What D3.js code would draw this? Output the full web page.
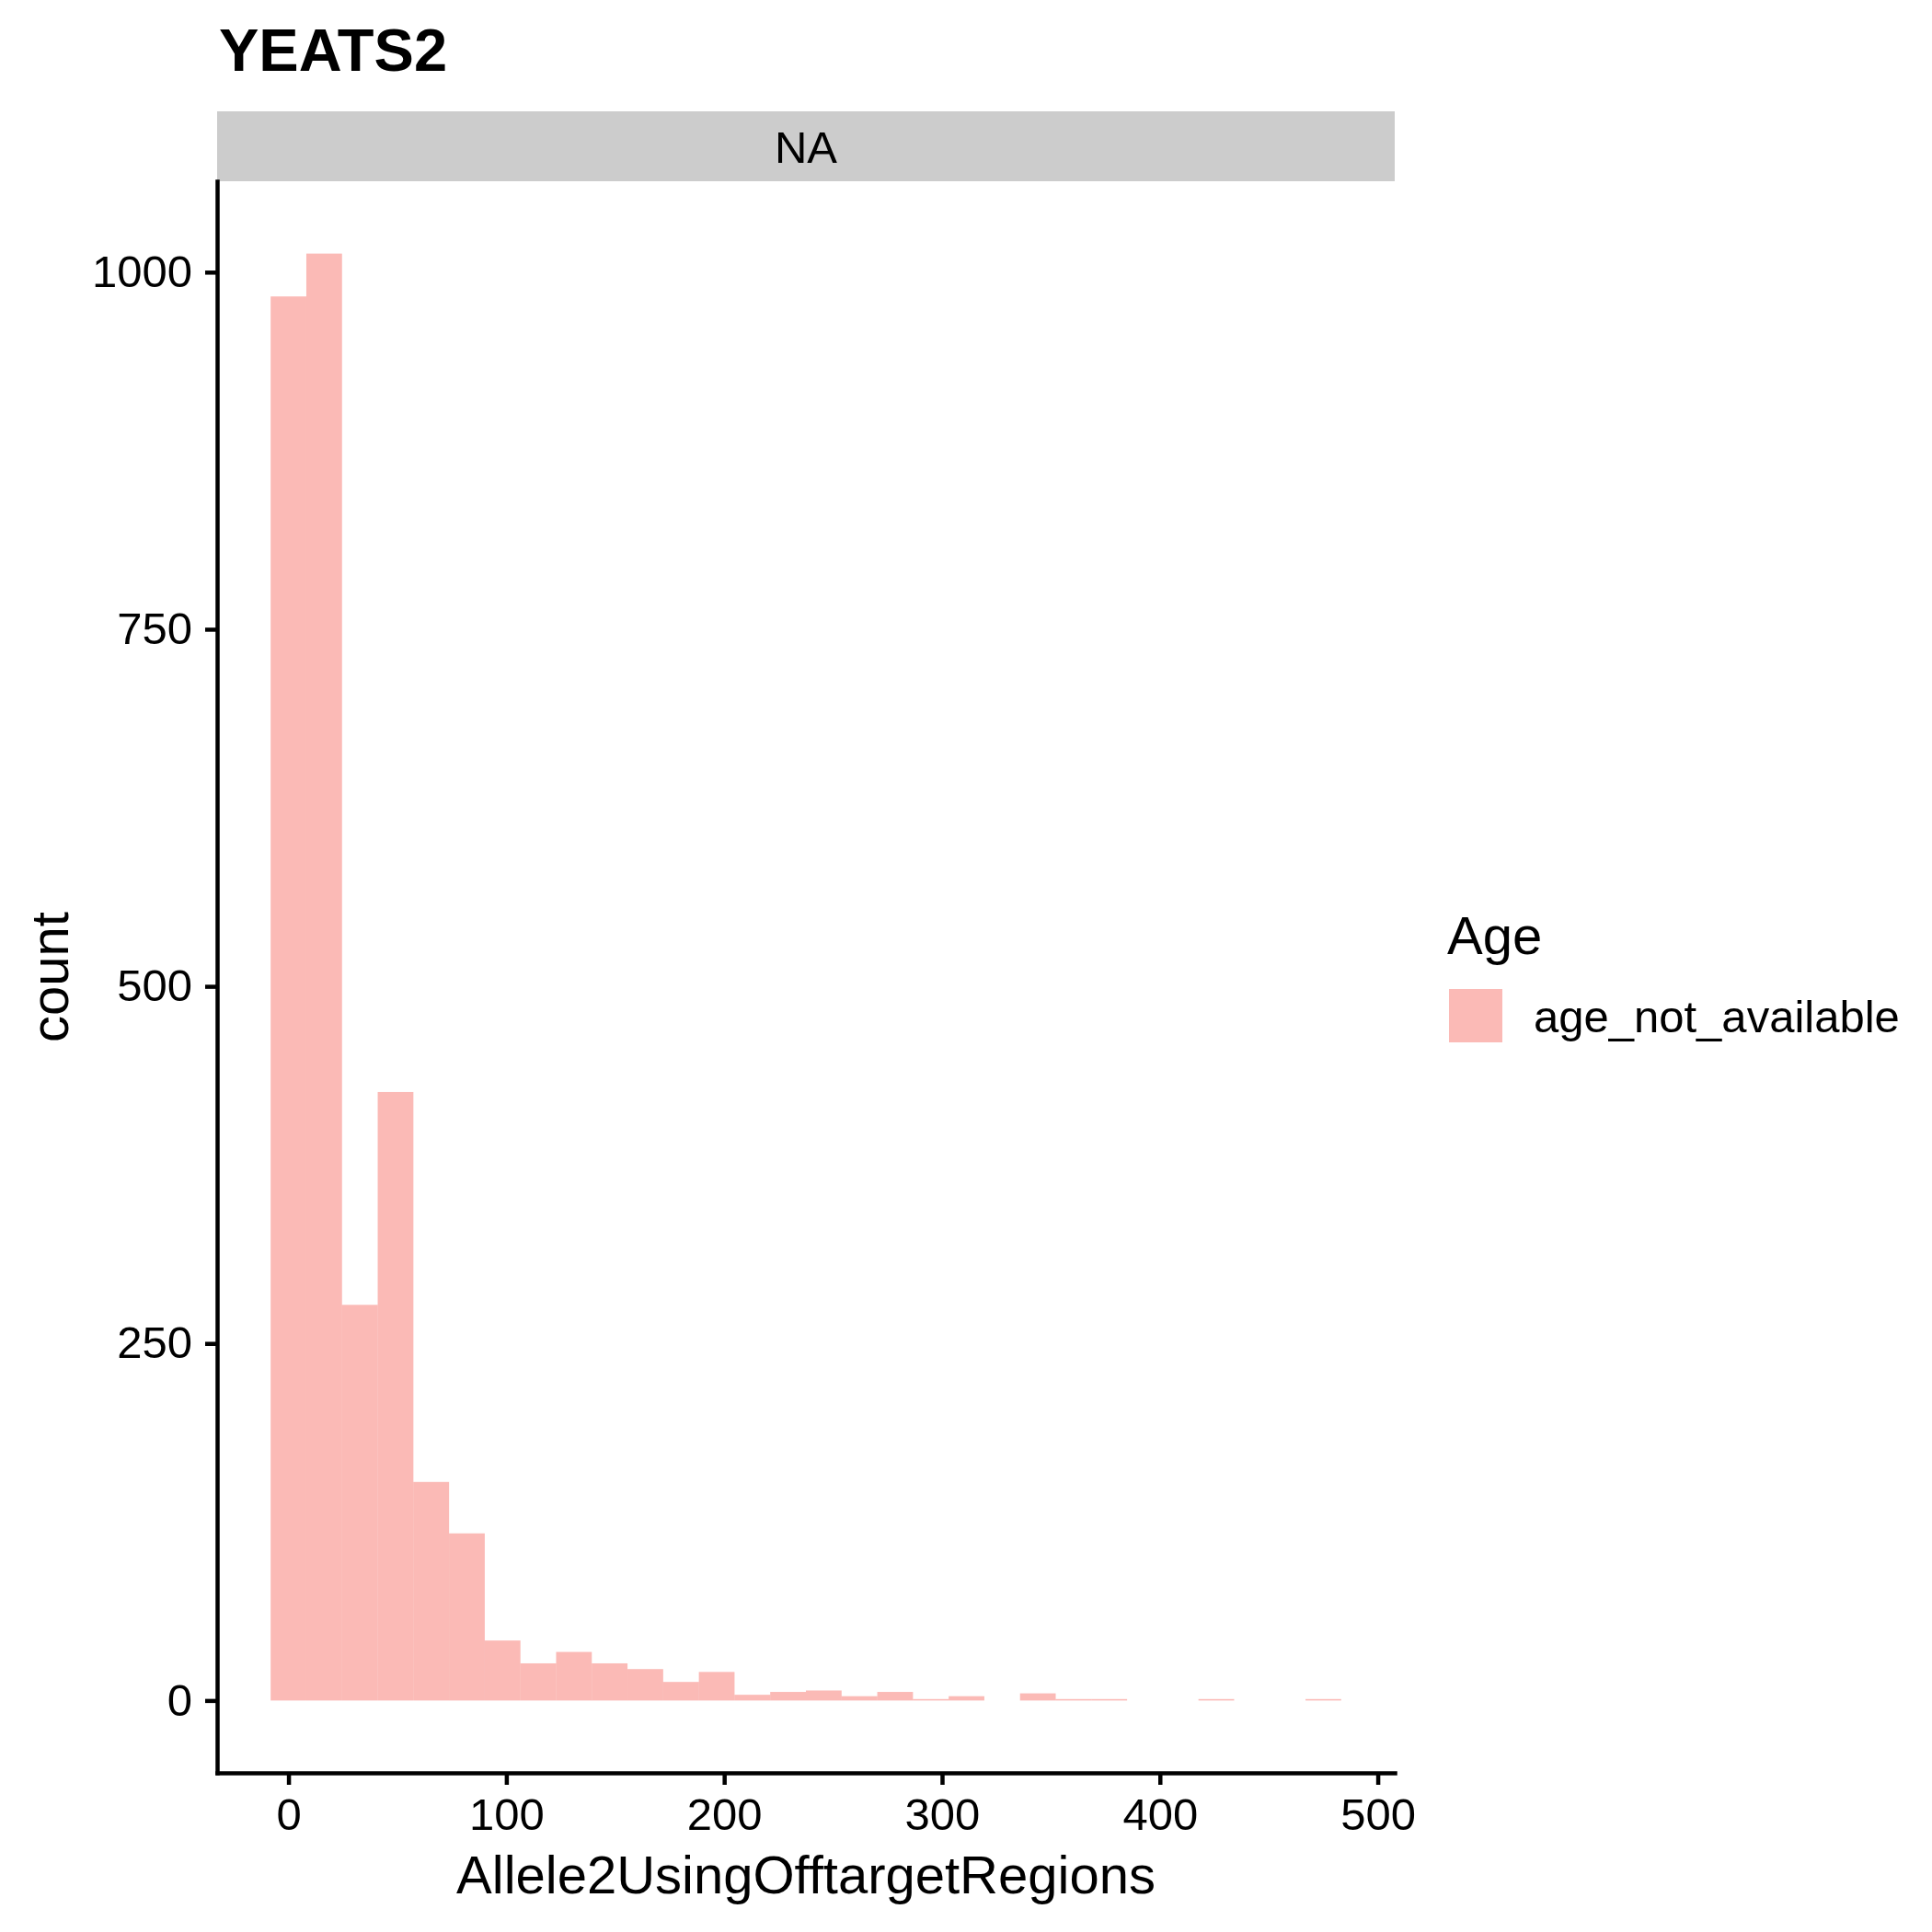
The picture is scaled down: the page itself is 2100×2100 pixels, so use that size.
<!DOCTYPE html>
<html>
<head>
<meta charset="utf-8">
<script src="https://cdn.jsdelivr.net/npm/d3@7"></script>
<style>
  body { margin: 0; background: #fff; }
  text { font-family: "Liberation Sans", Arial, Helvetica, sans-serif; fill: #000; }
</style>
</head>
<body>
<div id="chart"></div>
<script>
// Histogram of Allele2UsingOfftargetRegions, 30 bins, one facet ("NA").
var binStart = -8.19;      // left edge of the first bin
var binWidth = 16.38;
var counts = [983, 1013, 277, 426, 153, 117, 42, 26, 34, 26,
              22, 13, 20, 4, 6, 7, 3, 6, 1, 3,
              0, 5, 1, 1, 0, 0, 1, 0, 0, 1];
var xTicks = [0, 100, 200, 300, 400, 500];
var yTicks = [0, 250, 500, 750, 1000];
var groups = ["age_not_available"];
var facetLabel = "NA";
var title = "YEATS2";

var W = 2100, H = 2100;
var panel = {left: 236, right: 1516, top: 197, bottom: 1927};
var fill = "#F8766D";

var bins = counts.map(function(c, i) {
    return {x0: binStart + i * binWidth, x1: binStart + (i + 1) * binWidth, n: c};
});

var svg = d3.select("#chart").append("svg")
    .attr("width", W)
    .attr("height", H);

svg.append("rect").attr("width", W).attr("height", H).attr("fill", "#fff");

// ggplot style 5% expansion on both scales
var xLo = bins[0].x0, xHi = bins[bins.length - 1].x1;
var xPad = (xHi - xLo) * 0.05;
var x = d3.scaleLinear()
    .domain([xLo - xPad, xHi + xPad])
    .range([panel.left, panel.right]);

var yMax = d3.max(counts);
var y = d3.scaleLinear()
    .domain([-yMax * 0.05, yMax * 1.05])
    .range([panel.bottom, panel.top]);

// title
svg.append("text")
    .attr("x", 238)
    .attr("y", 77)
    .style("font-size", "65px")
    .style("font-weight", "bold")
    .text(title);

// facet strip
svg.append("rect")
    .attr("x", panel.left)
    .attr("y", 121)
    .attr("width", panel.right - panel.left)
    .attr("height", panel.top - 121)
    .attr("fill", "#CCCCCC");

svg.append("text")
    .attr("x", (panel.left + panel.right) / 2)
    .attr("y", 177)
    .attr("text-anchor", "middle")
    .style("font-size", "49px")
    .text(facetLabel);

// bars
svg.append("g").selectAll("rect")
    .data(bins)
    .enter()
    .append("rect")
        .attr("x", function(d) { return x(d.x0); })
        .attr("width", function(d) { return x(d.x1) - x(d.x0); })
        .attr("y", function(d) { return y(d.n); })
        .attr("height", function(d) { return y(0) - y(d.n); })
        .attr("fill", fill)
        .attr("fill-opacity", 0.5);

// axes
var xAxis = svg.append("g")
    .attr("transform", "translate(0," + panel.bottom + ")")
    .call(d3.axisBottom(x).tickValues(xTicks).tickFormat(d3.format("d"))
        .tickSize(13).tickSizeOuter(0).tickPadding(14));

var yAxis = svg.append("g")
    .attr("transform", "translate(" + panel.left + ",0)")
    .call(d3.axisLeft(y).tickValues(yTicks).tickFormat(d3.format("d"))
        .tickSize(13).tickSizeOuter(0).tickPadding(14));

[xAxis, yAxis].forEach(function(a) {
    a.select(".domain").attr("stroke", "#000").attr("stroke-width", 4.5).attr("stroke-linecap", "square");
    a.selectAll(".tick line").attr("stroke", "#000").attr("stroke-width", 4.5);
    a.selectAll(".tick text")
        .style("font-size", "49px")
        .style("font-family", "'Liberation Sans', Arial, sans-serif")
        .attr("fill", "#000");
});

// axis titles
svg.append("text")
    .attr("x", (panel.left + panel.right) / 2)
    .attr("y", 2058)
    .attr("text-anchor", "middle")
    .style("font-size", "58px")
    .text("Allele2UsingOfftargetRegions");

svg.append("text")
    .attr("transform", "translate(74," + (panel.top + panel.bottom) / 2 + ") rotate(-90)")
    .attr("text-anchor", "middle")
    .style("font-size", "58px")
    .text("count");

// legend
var legend = svg.append("g");
legend.append("text")
    .attr("x", 1573)
    .attr("y", 1037)
    .style("font-size", "58px")
    .text("Age");

var item = legend.selectAll("g.item")
    .data(groups)
    .enter()
    .append("g")
        .attr("class", "item")
        .attr("transform", function(d, i) { return "translate(1575," + (1075 + i * 58) + ")"; });

item.append("rect")
    .attr("width", 58)
    .attr("height", 58)
    .attr("fill", fill)
    .attr("fill-opacity", 0.5);

item.append("text")
    .attr("x", 92)
    .attr("y", 47)
    .style("font-size", "49px")
    .text(function(d) { return d; });
</script>
</body>
</html>
